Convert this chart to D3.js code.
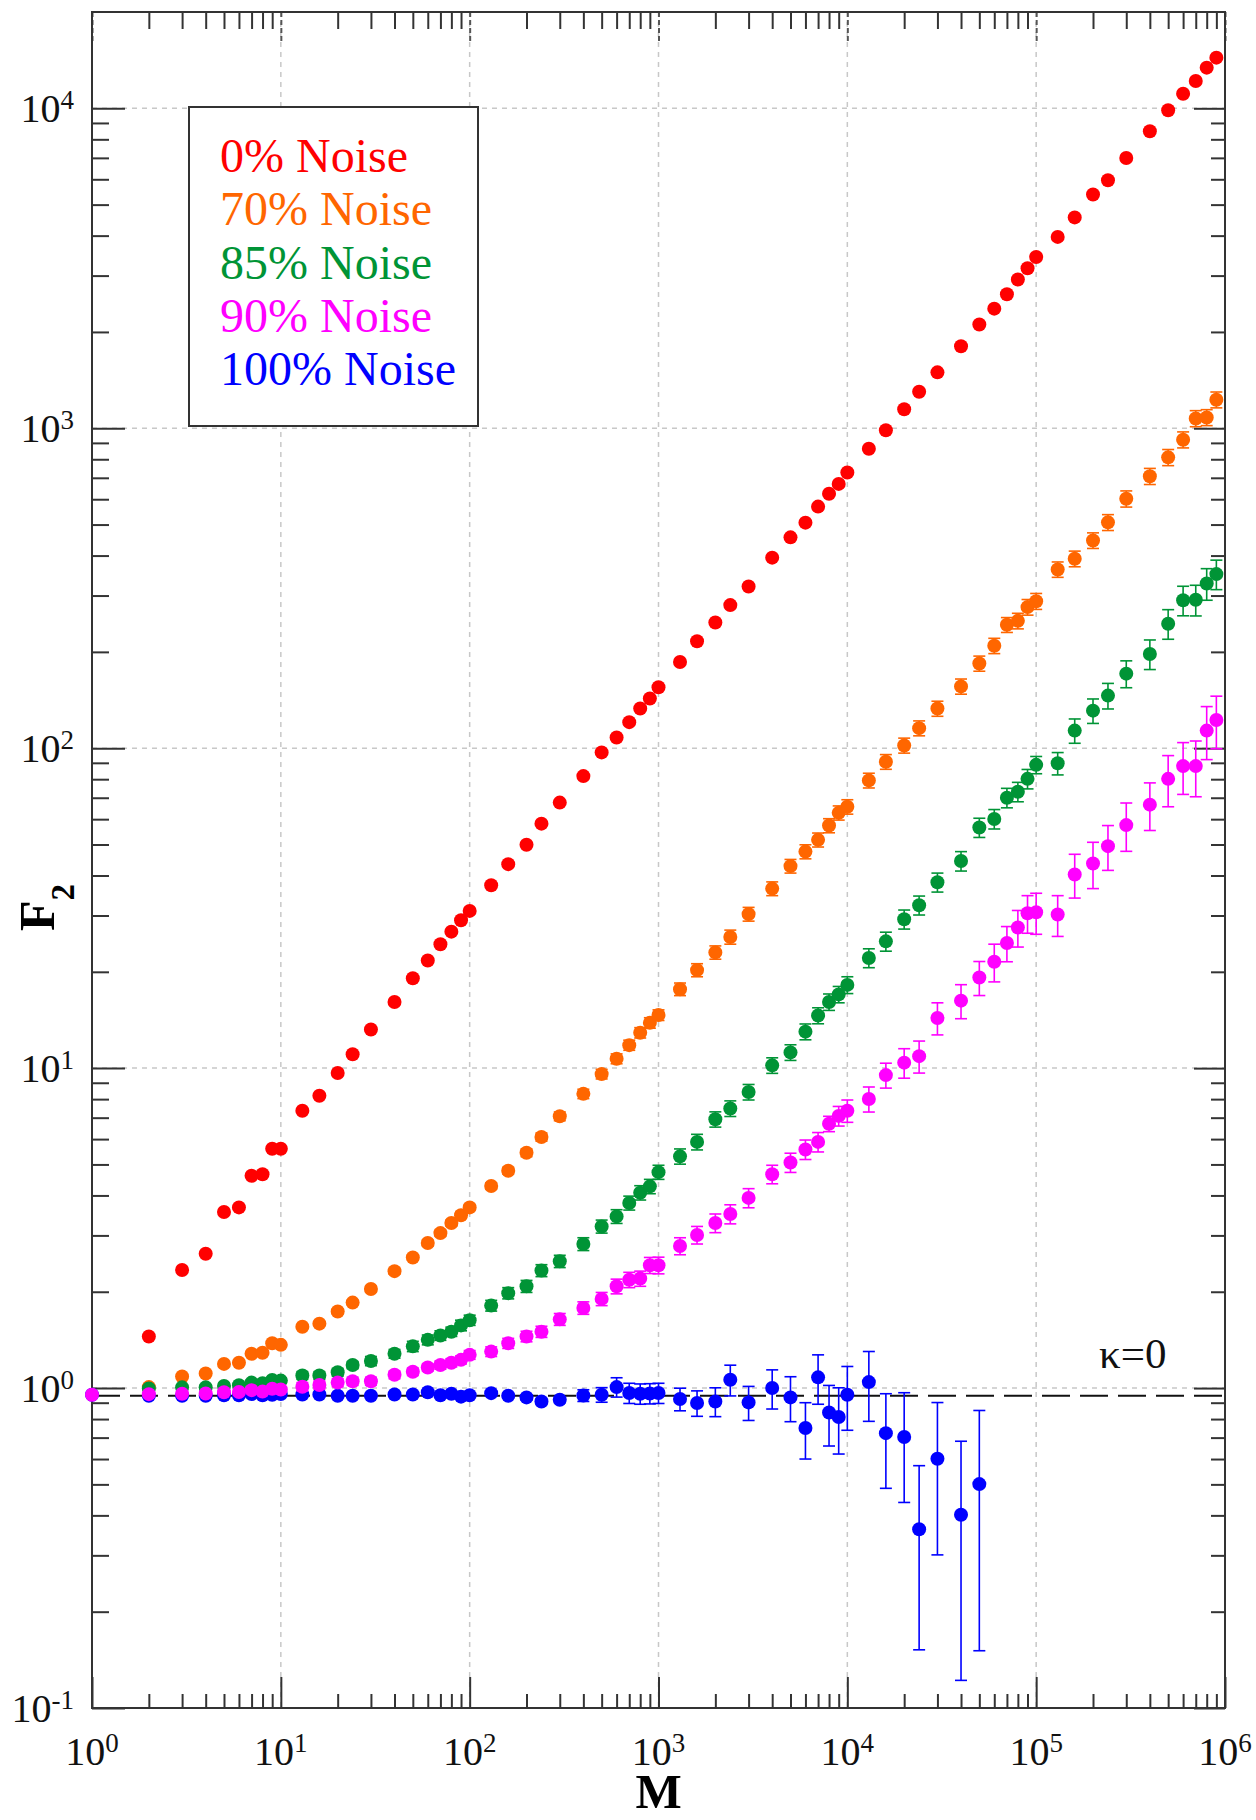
<!DOCTYPE html>
<html>
<head>
<meta charset="utf-8">
<script src="https://cdn.jsdelivr.net/npm/d3@7.9.0/dist/d3.min.js"></script>
<style>
  html, body { margin: 0; padding: 0; background: #fff; }
  svg { display: block; }
  text { font-family: "Liberation Serif", "Times New Roman", serif; }
</style>
</head>
<body>
<svg id="chart" width="1256" height="1820"></svg>
<script>
// M values shared by every series
const mValues = [1, 2, 3, 4, 5, 6, 7, 8, 9, 10,
  13, 16, 20, 24, 30, 40, 50, 60, 70, 80, 90, 100,
  130, 160, 200, 240, 300, 400, 500, 600, 700, 800, 900, 1000,
  1300, 1600, 2000, 2400, 3000, 4000, 5000, 6000, 7000, 8000, 9000, 10000,
  13000, 16000, 20000, 24000, 30000, 40000, 50000, 60000, 70000, 80000, 90000, 100000,
  130000, 160000, 200000, 240000, 300000, 400000, 500000, 600000, 700000, 800000, 900000];

const seriesNames = ['0% Noise', '70% Noise', '85% Noise', '90% Noise', '100% Noise'];
const seriesColors = ['#ff0000', '#ff6600', '#009436', '#ff00ff', '#0000ff'];

const f2Noise0 = [null, 1.45, 2.34, 2.63, 3.55, 3.67, 4.61, 4.66, 5.6, 5.6,
  7.36, 8.2, 9.65, 11.05, 13.2, 16.1, 19.1, 21.7, 24.4, 26.7, 29.0, 31.0,
  37.3, 43.4, 49.9, 58.1, 67.6, 81.8, 97, 108, 120.6, 133, 143, 155,
  186, 216, 247, 280, 320, 394, 456, 507, 569, 624, 670, 727,
  863, 986, 1147, 1300, 1495, 1805, 2110, 2365, 2623, 2918, 3162, 3430,
  3963, 4560, 5380, 5960, 6990, 8480, 9860, 11100, 12170, 13400, 14400];

const f2Noise70 = [null, 1.007, 1.087, 1.11, 1.19, 1.2, 1.28, 1.29, 1.38, 1.365,
  1.555, 1.59, 1.735, 1.85, 2.04, 2.32, 2.56, 2.84, 3.05, 3.28, 3.47, 3.67,
  4.28, 4.78, 5.44, 6.09, 7.07, 8.31, 9.58, 10.7, 11.8, 12.9, 13.85, 14.65,
  17.65, 20.25, 23.0, 25.7, 30.3, 36.4, 42.8, 47.5, 51.7, 57.3, 62.8, 65.6,
  79.3, 90.7, 102, 115.5, 133, 156, 184, 209, 243, 250, 276, 288,
  362, 391, 446, 508, 602, 708, 811, 921, 1073, 1081, 1228];
const errNoise70 = [null, 0.01, 0.01, 0.01, 0.01, 0.01, 0.01, 0.01, 0.01, 0.01,
  0.02, 0.02, 0.03, 0.03, 0.04, 0.05, 0.05, 0.06, 0.07, 0.07, 0.08, 0.08,
  0.1, 0.12, 0.15, 0.18, 0.22, 0.28, 0.33, 0.38, 0.43, 0.48, 0.52, 0.56,
  0.8, 0.95, 1.1, 1.3, 1.5, 1.8, 2.1, 2.4, 2.6, 2.9, 3.2, 3.4,
  4.2, 4.8, 5.5, 6.2, 7.2, 8.5, 10, 11.5, 13, 14, 15.5, 16.5,
  20, 22, 25, 29, 35, 41, 47, 53, 62, 62, 70];

const f2Noise85 = [null, 0.997, 1.005, 1.005, 1.015, 1.02, 1.04, 1.035, 1.06, 1.055,
  1.095, 1.095, 1.12, 1.18, 1.215, 1.28, 1.35, 1.415, 1.46, 1.5, 1.57, 1.63,
  1.81, 1.98, 2.08, 2.33, 2.49, 2.82, 3.2, 3.44, 3.79, 4.08, 4.27, 4.73,
  5.3, 5.88, 6.92, 7.48, 8.42, 10.2, 11.2, 13.0, 14.6, 16.1, 17.0, 18.2,
  22.1, 24.9, 29.2, 32.3, 38.1, 44.4, 56.5, 60.1, 70.0, 73.1, 80.2, 88.7,
  89.7, 113.5, 131, 146, 171, 197, 245, 290, 291, 327, 350];
const errNoise85 = [null, 0.02, 0.02, 0.02, 0.02, 0.02, 0.02, 0.02, 0.02, 0.02,
  0.03, 0.03, 0.03, 0.03, 0.04, 0.04, 0.05, 0.05, 0.05, 0.05, 0.06, 0.06,
  0.07, 0.08, 0.09, 0.1, 0.11, 0.13, 0.15, 0.17, 0.19, 0.21, 0.22, 0.24,
  0.29, 0.33, 0.38, 0.42, 0.47, 0.57, 0.63, 0.74, 0.84, 0.95, 1.0, 1.1,
  1.5, 1.7, 2.0, 2.2, 2.6, 3.1, 3.9, 4.2, 4.9, 5.1, 5.6, 5.5,
  7.2, 9.9, 11.5, 13.4, 16.5, 20.9, 26, 30.7, 32, 37, 37];

const f2Noise90 = [0.953, 0.957, 0.96, 0.962, 0.97, 0.972, 0.985, 0.975, 0.995, 0.99,
  1.01, 1.022, 1.04, 1.05, 1.05, 1.1, 1.125, 1.16, 1.18, 1.2, 1.225, 1.27,
  1.3, 1.38, 1.45, 1.5, 1.64, 1.78, 1.9, 2.08, 2.18, 2.2, 2.42, 2.42,
  2.78, 3.01, 3.28, 3.5, 3.93, 4.66, 5.07, 5.57, 5.88, 6.7, 7.09, 7.36,
  8.01, 9.51, 10.4, 10.9, 14.35, 16.25, 19.2, 21.5, 24.6, 27.5, 30.5, 30.7,
  30.2, 40.3, 43.6, 49.4, 57.5, 66.6, 80.2, 87.9, 87.9, 113.5, 122.5];
const errNoise90 = [0.01, 0.01, 0.01, 0.01, 0.01, 0.01, 0.01, 0.01, 0.01, 0.01,
  0.03, 0.03, 0.03, 0.03, 0.03, 0.03, 0.03, 0.03, 0.035, 0.035, 0.035, 0.04,
  0.045, 0.05, 0.055, 0.06, 0.07, 0.08, 0.09, 0.11, 0.12, 0.12, 0.14, 0.145,
  0.17, 0.19, 0.22, 0.24, 0.27, 0.31, 0.35, 0.39, 0.41, 0.37, 0.5, 0.59,
  0.72, 0.85, 1.1, 1.25, 1.65, 1.98, 2.34, 2.9, 3.1, 3.6, 4.1, 4.5,
  4.4, 6.3, 7.2, 7.9, 9.9, 11.3, 14.6, 16.2, 17.4, 21.4, 22.9];

const f2Noise100 = [0.953, 0.946, 0.946, 0.946, 0.95, 0.95, 0.958, 0.95, 0.953, 0.958,
  0.955, 0.955, 0.946, 0.946, 0.946, 0.955, 0.955, 0.97, 0.95, 0.96, 0.94, 0.95,
  0.964, 0.946, 0.935, 0.908, 0.919, 0.948, 0.953, 1.007, 0.965, 0.96, 0.962, 0.965,
  0.924, 0.898, 0.908, 1.062, 0.902, 1.0, 0.935, 0.75, 1.08, 0.839, 0.812, 0.953,
  1.044, 0.723, 0.703, 0.362, 0.601, 0.402, 0.501, null, null, null, null, null,
  null, null, null, null, null, null, null, null, null, null, null];
const errNoise100 = [0.005, 0.005, 0.005, 0.005, 0.005, 0.005, 0.005, 0.005, 0.005, 0.005,
  0.008, 0.008, 0.008, 0.008, 0.008, 0.01, 0.01, 0.01, 0.01, 0.01, 0.01, 0.01,
  0.015, 0.015, 0.018, 0.02, 0.02, 0.04, 0.05, 0.07, 0.07, 0.07, 0.07, 0.07,
  0.075, 0.082, 0.094, 0.117, 0.11, 0.14, 0.15, 0.15, 0.19, 0.18, 0.19, 0.215,
  0.257, 0.237, 0.264, 0.21, 0.3, 0.28, 0.35, null, null, null, null, null,
  null, null, null, null, null, null, null, null, null, null, null];

// horizontal reference line (kappa = 0)
const kappaZero = 0.946;

const xTickExp = ['0', '1', '2', '3', '4', '5', '6'];
const yTickExp = ['-1', '0', '1', '2', '3', '4'];

const svg = d3.select('#chart');
const plotLeft = 92, plotRight = 1225, plotTop = 12, plotBottom = 1708;

const x = d3.scaleLog().domain([1, 1e6]).range([plotLeft, plotRight]);
const y = d3.scaleLog().domain([0.1, 2e4]).range([plotBottom, plotTop]);

const xMajor = xTickExp.map(e => Math.pow(10, +e));
const yMajor = yTickExp.map(e => Math.pow(10, +e));
const xMinor = [];
xMajor.slice(0, -1).forEach(d => { for (let k = 2; k <= 9; k++) xMinor.push(d * k); });
const yMinor = [];
yMajor.forEach(d => { for (let k = 2; k <= 9; k++) if (d * k < 2e4) yMinor.push(d * k); });

// grid
const grid = svg.append('g')
  .attr('stroke', '#c8c8c8')
  .attr('stroke-width', 1.5)
  .attr('stroke-dasharray', '5,5');
grid.selectAll('.gx').data(xMajor.slice(1, -1)).join('line')
  .attr('x1', d => x(d)).attr('x2', d => x(d))
  .attr('y1', plotTop).attr('y2', plotBottom);
grid.selectAll('.gy').data(yMajor.slice(1)).join('line')
  .attr('x1', plotLeft).attr('x2', plotRight)
  .attr('y1', d => y(d)).attr('y2', d => y(d));

// axes: ticks pointing inward on all four sides
function styleAxis(g) {
  g.select('.domain').remove();
  g.selectAll('.tick line').attr('stroke', '#333').attr('stroke-width', 2);
  g.selectAll('.tick text').remove();
}
svg.append('g').attr('transform', `translate(0,${plotBottom})`)
  .call(d3.axisBottom(x).tickValues(xMajor).tickSize(-31)).call(styleAxis);
svg.append('g').attr('transform', `translate(0,${plotBottom})`)
  .call(d3.axisBottom(x).tickValues(xMinor).tickSize(-14)).call(styleAxis);
svg.append('g').attr('transform', `translate(0,${plotTop})`)
  .call(d3.axisTop(x).tickValues(xMajor).tickSize(-30)).call(styleAxis)
  .selectAll('.tick line').attr('stroke-dasharray', '5,3').attr('stroke', '#555');
svg.append('g').attr('transform', `translate(0,${plotTop})`)
  .call(d3.axisTop(x).tickValues(xMinor).tickSize(-17)).call(styleAxis);
svg.append('g').attr('transform', `translate(${plotLeft},0)`)
  .call(d3.axisLeft(y).tickValues(yMajor).tickSize(-33)).call(styleAxis);
svg.append('g').attr('transform', `translate(${plotLeft},0)`)
  .call(d3.axisLeft(y).tickValues(yMinor).tickSize(-17)).call(styleAxis);
svg.append('g').attr('transform', `translate(${plotRight},0)`)
  .call(d3.axisRight(y).tickValues(yMajor).tickSize(-31)).call(styleAxis);
svg.append('g').attr('transform', `translate(${plotRight},0)`)
  .call(d3.axisRight(y).tickValues(yMinor).tickSize(-14)).call(styleAxis);

// frame
svg.append('rect')
  .attr('x', plotLeft).attr('y', plotTop)
  .attr('width', plotRight - plotLeft).attr('height', plotBottom - plotTop)
  .attr('fill', 'none').attr('stroke', '#333').attr('stroke-width', 2);

// tick labels 10^n
const xl = svg.selectAll('.xlab').data(xTickExp).join('text')
  .attr('x', d => x(Math.pow(10, +d)))
  .attr('y', 1765)
  .attr('text-anchor', 'middle')
  .attr('font-size', 40)
  .attr('fill', '#111');
xl.append('tspan').text('10');
xl.append('tspan').attr('dy', -13).attr('font-size', 27).text(d => d);

const yl = svg.selectAll('.ylab').data(yTickExp).join('text')
  .attr('x', 74)
  .attr('y', d => y(Math.pow(10, +d)) + 14)
  .attr('text-anchor', 'end')
  .attr('font-size', 40)
  .attr('fill', '#111');
yl.append('tspan').text('10');
yl.append('tspan').attr('dy', -13).attr('font-size', 27).text(d => d);

// axis titles
svg.append('text')
  .attr('x', (plotLeft + plotRight) / 2).attr('y', 1808)
  .attr('text-anchor', 'middle')
  .attr('font-size', 49).attr('font-weight', 'bold')
  .text('M');
const yt = svg.append('text')
  .attr('transform', 'translate(54,931) rotate(-90)')
  .attr('font-size', 50).attr('font-weight', 'bold');
yt.append('tspan').text('F');
yt.append('tspan').attr('dy', 20).attr('font-size', 33).text('2');

// kappa = 0 reference line
svg.append('line')
  .attr('x1', plotLeft).attr('x2', plotRight)
  .attr('y1', y(kappaZero)).attr('y2', y(kappaZero))
  .attr('stroke', '#111').attr('stroke-width', 2)
  .attr('stroke-dasharray', '28,10');
svg.append('text')
  .attr('x', 1099).attr('y', 1368)
  .attr('font-size', 43).attr('fill', '#111')
  .text('κ=0');

// series, drawn back to front
const seriesValues = [f2Noise0, f2Noise70, f2Noise85, f2Noise90, f2Noise100];
const seriesErrors = [null, errNoise70, errNoise85, errNoise90, errNoise100];
const drawOrder = [4, 0, 1, 2, 3];

drawOrder.forEach(si => {
  const vals = seriesValues[si];
  const errs = seriesErrors[si];
  const color = seriesColors[si];
  const pts = mValues
    .map((m, i) => ({ m, v: vals[i], e: errs ? errs[i] : 0 }))
    .filter(d => d.v != null);
  const g = svg.append('g');

  const bars = pts.filter(d => d.e > 0);
  const eb = g.append('g').attr('stroke', color).attr('stroke-width', 1.6);
  eb.selectAll('.v').data(bars).join('line')
    .attr('x1', d => x(d.m)).attr('x2', d => x(d.m))
    .attr('y1', d => y(d.v + d.e)).attr('y2', d => y(Math.max(d.v - d.e, 0.05)));
  eb.selectAll('.t').data(bars).join('line')
    .attr('x1', d => x(d.m) - 6).attr('x2', d => x(d.m) + 6)
    .attr('y1', d => y(d.v + d.e)).attr('y2', d => y(d.v + d.e));
  eb.selectAll('.b').data(bars).join('line')
    .attr('x1', d => x(d.m) - 6).attr('x2', d => x(d.m) + 6)
    .attr('y1', d => y(Math.max(d.v - d.e, 0.05))).attr('y2', d => y(Math.max(d.v - d.e, 0.05)));

  g.selectAll('circle').data(pts).join('circle')
    .attr('cx', d => x(d.m))
    .attr('cy', d => y(d.v))
    .attr('r', 7)
    .attr('fill', color);
});

// legend
const legend = svg.append('g');
legend.append('rect')
  .attr('x', 189).attr('y', 107)
  .attr('width', 289).attr('height', 319)
  .attr('fill', '#fff').attr('stroke', '#333').attr('stroke-width', 2);
legend.selectAll('text').data(seriesNames).join('text')
  .attr('x', 220)
  .attr('y', (d, i) => 172 + i * 53.3)
  .attr('font-size', 48)
  .attr('fill', (d, i) => seriesColors[i])
  .text(d => d);
</script>
</body>
</html>
